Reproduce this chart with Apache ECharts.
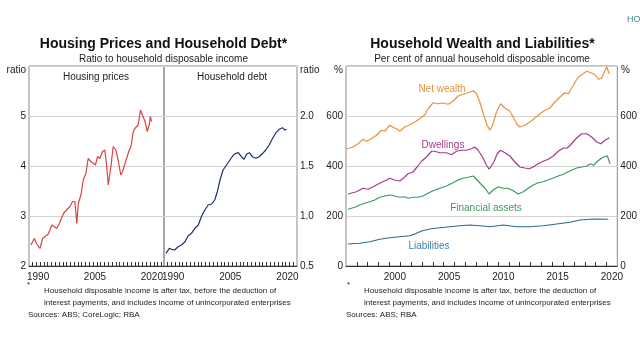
<!DOCTYPE html>
<html><head><meta charset="utf-8">
<script src="https://cdn.jsdelivr.net/npm/echarts@6/dist/echarts.min.js"></script>
<style>html,body{margin:0;padding:0;background:#fff}#c{width:640px;height:360px}</style>
</head><body><div id="c"></div>
<script>
// ---- data ----
const hpYears = [1988.1,1989.0,1989.6,1990.5,1991.2,1991.8,1992.7,1993.6,1994.2,1994.9,1995.6,1996.7,1997.5,1998.4,1999.1,1999.7,2000.2,2000.6,2001.3,2001.9,2002.6,2003.2,2003.9,2004.4,2005.1,2005.7,2006.3,2007.0,2007.6,2008.1,2008.5,2009.2,2009.8,2010.5,2011.1,2011.8,2012.3,2013.2,2013.9,2014.5,2015.1,2015.5,2016.0,2016.4,2017.0,2017.5,2018.2,2018.8,2019.3,2019.6,2019.9];
const hpValues = [2.42,2.55,2.45,2.35,2.55,2.59,2.64,2.82,2.79,2.75,2.85,3.05,3.12,3.19,3.29,3.29,2.85,3.25,3.42,3.72,3.85,4.15,4.09,4.05,4.02,4.19,4.15,4.29,4.32,3.99,3.62,3.99,4.39,4.32,4.12,3.82,3.89,4.12,4.29,4.39,4.69,4.75,4.72,4.82,5.12,5.02,4.89,4.69,4.82,4.99,4.89];
const debtYears = [1988.1,1989.0,1989.6,1990.4,1991.3,1992.2,1993.1,1993.9,1994.8,1995.7,1996.6,1997.4,1998.3,1999.2,2000.1,2000.9,2001.6,2002.3,2003.1,2004.0,2004.9,2005.8,2006.5,2007.1,2007.9,2008.6,2009.3,2010.0,2010.8,2011.7,2012.6,2013.5,2014.3,2015.2,2016.1,2017.0,2017.8,2018.7,2019.3,2019.8];
const debtValues = [0.627,0.677,0.667,0.66,0.693,0.71,0.743,0.80,0.827,0.877,0.91,0.993,1.06,1.11,1.12,1.16,1.243,1.36,1.46,1.51,1.56,1.61,1.627,1.633,1.593,1.567,1.62,1.633,1.593,1.577,1.593,1.627,1.66,1.71,1.777,1.833,1.867,1.883,1.86,1.867];

const nwYears = [1996.09,1996.65,1997.11,1997.57,1997.88,1998.34,1998.80,1999.27,1999.57,2000.03,2000.34,2000.65,2000.95,2001.41,2001.88,2002.34,2002.80,2003.26,2003.56,2004.03,2004.49,2004.95,2005.41,2005.87,2006.33,2006.79,2007.25,2007.72,2008.03,2008.33,2008.70,2009.00,2009.26,2009.50,2009.87,2010.24,2010.64,2011.10,2011.40,2011.72,2012.02,2012.48,2012.95,2013.41,2013.87,2014.33,2014.79,2015.25,2015.71,2016.18,2016.48,2016.94,2017.40,2017.86,2018.18,2018.55,2018.94,2019.25,2019.56,2019.87,2020.02,2020.26];
const nwValues = [469,476,489,507,499,509,523,543,539,563,555,549,539,556,565,576,589,605,629,653,649,652,647,659,680,687,693,701,689,656,603,563,543,563,616,649,632,619,596,569,556,563,576,592,609,623,632,656,676,693,689,723,756,769,779,773,765,747,752,783,796,769];
const dwYears = [1996.18,1996.96,1997.57,1998.03,1998.49,1999.11,1999.73,2000.03,2000.49,2000.95,2001.41,2001.72,2002.18,2002.55,2002.96,2003.42,2003.88,2004.18,2004.64,2005.26,2005.72,2006.18,2006.65,2007.11,2007.57,2007.87,2008.18,2008.58,2008.95,2009.19,2009.32,2009.63,2009.93,2010.24,2010.64,2011.10,2011.56,2012.02,2012.48,2012.88,2013.25,2013.71,2014.17,2014.63,2015.10,2015.56,2016.02,2016.39,2016.79,2017.25,2017.72,2018.18,2018.64,2019.10,2019.47,2019.87,2020.26];
const dwValues = [288,297,311,307,317,331,344,351,344,340,356,369,376,396,419,436,459,459,453,453,445,459,463,463,469,476,463,436,403,387,389,416,449,463,453,440,416,396,392,389,396,409,419,427,440,459,472,472,489,512,529,529,516,496,489,503,513];
const faYears = [1996.18,1996.80,1997.26,1997.72,1998.19,1998.65,1999.11,1999.57,2000.03,2000.49,2000.95,2001.41,2001.72,2002.18,2002.64,2003.10,2003.56,2004.03,2004.64,2005.26,2005.87,2006.33,2006.79,2007.25,2007.72,2008.03,2008.49,2008.80,2009.19,2009.56,2010.02,2010.48,2010.94,2011.41,2011.87,2012.33,2012.79,2013.25,2013.71,2014.17,2014.63,2015.10,2015.56,2016.02,2016.39,2016.79,2017.25,2017.72,2018.18,2018.55,2018.80,2019.10,2019.47,2019.87,2020.08,2020.33];
const faValues = [227,235,244,251,257,264,275,280,284,280,275,277,271,275,275,280,291,301,311,320,333,344,351,355,360,347,325,311,288,304,317,311,311,301,288,297,311,324,333,337,345,352,360,367,375,383,392,396,400,409,403,416,429,439,440,409];
const liYears = [1996.18,1997.26,1998.19,1999.11,2000.03,2000.95,2001.88,2002.34,2002.96,2003.72,2004.64,2005.57,2006.49,2007.41,2008.33,2009.26,2010.48,2011.72,2012.95,2014.17,2015.41,2016.64,2017.56,2018.79,2020.17];
const liValues = [88,91,97,107,113,117,121,128,140,148,153,157,161,164,161,157,164,157,157,161,168,175,184,188,187];

const leftYearLabels = [1990, 2005, 2020];
const rightYearLabels = [2000, 2005, 2010, 2015, 2020];
const hpTicks = [3, 4, 5];
const debtTicks = [1.0, 1.5, 2.0];
const pctTicks = [200, 400, 600];

// ---- chart ----
const zip = (a, b) => a.map((x, i) => [x, b[i]]);
const FONT = "'Liberation Sans', Arial, sans-serif";
const range = (a, b, s) => { const r = []; for (let v = a; v <= b + 1e-9; v += s) r.push(+v.toFixed(2)); return r; };

const chart = echarts.init(document.getElementById('c'), null, {renderer: 'canvas'});
const gridBorder = '#8a8a8a';
const splitLine = {show: true, lineStyle: {color: '#d2d2d2', width: 1}};
const axLbl = {color: '#222', fontSize: 10, fontFamily: FONT};

function xAx(grid, min, max, labels, tickVals, labelShift) {
  return {
    type: 'value', gridIndex: grid, min: min, max: max,
    axisLine: {show: true, lineStyle: {color: '#333'}},
    axisTick: {show: true, inside: true, length: 4, lineStyle: {color: '#333'}, customValues: tickVals},
    axisLabel: Object.assign({}, axLbl, {margin: 6, customValues: labels.map(v => v + labelShift), formatter: v => String(Math.floor(v))}),
    splitLine: {show: false}
  };
}
function yAx(grid, min, max, interval, pos, fmt, showSplit) {
  return {
    type: 'value', gridIndex: grid, min: min, max: max, interval: interval, position: pos,
    axisLine: {show: false}, axisTick: {show: false},
    axisLabel: Object.assign({}, axLbl, {margin: 3, showMaxLabel: false, formatter: fmt}),
    splitLine: showSplit ? splitLine : {show: false}
  };
}

const option = {
  animation: false,
  backgroundColor: '#fff',
  grid: [
    {left: 29, top: 66, width: 135, height: 200, show: true, borderColor: gridBorder, borderWidth: 1},
    {left: 164, top: 66, width: 133, height: 200, show: true, borderColor: gridBorder, borderWidth: 1},
    {left: 346, top: 66, width: 272, height: 200, show: true, borderColor: gridBorder, borderWidth: 1}
  ],
  xAxis: [
    xAx(0, 1987.6, 2023.2, leftYearLabels, range(1988.5, 2022.5, 1), 0),
    xAx(1, 1987.6, 2022.5, leftYearLabels, range(1988.5, 2021.5, 1), 0),
    xAx(2, 1996, 2021, rightYearLabels, range(1997, 2020, 1), 0.5)
  ],
  yAxis: [
    yAx(0, 2, 6, 1, 'left', v => String(v), true),
    yAx(1, 0.5, 2.5, 0.5, 'right', v => v.toFixed(1), true),
    yAx(2, 0, 800, 200, 'left', v => String(v), true),
    yAx(2, 0, 800, 200, 'right', v => String(v), false)
  ],
  series: [
    {type: 'line', xAxisIndex: 0, yAxisIndex: 0, data: zip(hpYears, hpValues), showSymbol: false, lineStyle: {color: '#d9443f', width: 1.2}},
    {type: 'line', xAxisIndex: 1, yAxisIndex: 1, data: zip(debtYears, debtValues), showSymbol: false, lineStyle: {color: '#1d2f6e', width: 1.2}},
    {type: 'line', xAxisIndex: 2, yAxisIndex: 2, data: zip(nwYears, nwValues), showSymbol: false, lineStyle: {color: '#e8913f', width: 1.2}},
    {type: 'line', xAxisIndex: 2, yAxisIndex: 2, data: zip(dwYears, dwValues), showSymbol: false, lineStyle: {color: '#a33a8d', width: 1.2}},
    {type: 'line', xAxisIndex: 2, yAxisIndex: 2, data: zip(faYears, faValues), showSymbol: false, lineStyle: {color: '#3a9a5e', width: 1.2}},
    {type: 'line', xAxisIndex: 2, yAxisIndex: 2, data: zip(liYears, liValues), showSymbol: false, lineStyle: {color: '#2c6a92', width: 1.2}}
  ],
  graphic: []
};

function txt(text, x, y, opts) {
  return {type: 'text', silent: true, style: Object.assign({text: text, x: x, y: y, fill: '#222', font: '10px ' + FONT, textAlign: 'left', textVerticalAlign: 'middle'}, opts || {})};
}
option.graphic = [
  txt('Housing Prices and Household Debt*', 163.5, 44, {font: 'bold 14px ' + FONT, textAlign: 'center', fill: '#111'}),
  txt('Ratio to household disposable income', 163.5, 59, {textAlign: 'center'}),
  txt('Household Wealth and Liabilities*', 482.5, 44, {font: 'bold 14px ' + FONT, textAlign: 'center', fill: '#111'}),
  txt('Per cent of annual household disposable income', 482, 59, {textAlign: 'center'}),
  txt('Housing prices', 96, 77, {textAlign: 'center'}),
  txt('Household debt', 232, 77, {textAlign: 'center'}),
  txt('ratio', 26, 70, {textAlign: 'right'}),
  txt('ratio', 300, 70),
  txt('%', 343, 70, {textAlign: 'right'}),
  txt('%', 621, 70),
  txt('Net wealth', 442, 89, {textAlign: 'center', fill: '#e8913f'}),
  txt('Dwellings', 443, 145, {textAlign: 'center', fill: '#a33a8d'}),
  txt('Financial assets', 486, 208, {textAlign: 'center', fill: '#3a9a5e'}),
  txt('Liabilities', 429, 246, {textAlign: 'center', fill: '#3a80b5'}),
  txt('*', 27, 285, {font: '8px ' + FONT}),
  txt('Household disposable income is after tax, before the deduction of', 44, 291, {font: '8px ' + FONT}),
  txt('interest payments, and includes income of unincorporated enterprises', 44, 303, {font: '8px ' + FONT}),
  txt('Sources: ABS; CoreLogic; RBA', 28, 315, {font: '8px ' + FONT}),
  txt('*', 347, 285, {font: '8px ' + FONT}),
  txt('Household disposable income is after tax, before the deduction of', 364, 291, {font: '8px ' + FONT}),
  txt('interest payments, and includes income of unincorporated enterprises', 364, 303, {font: '8px ' + FONT}),
  txt('Sources: ABS; RBA', 346, 315, {font: '8px ' + FONT}),
  txt('HO', 627, 20, {font: '9px ' + FONT, fill: '#4b8797'})
];
chart.setOption(option);
</script></body></html>
